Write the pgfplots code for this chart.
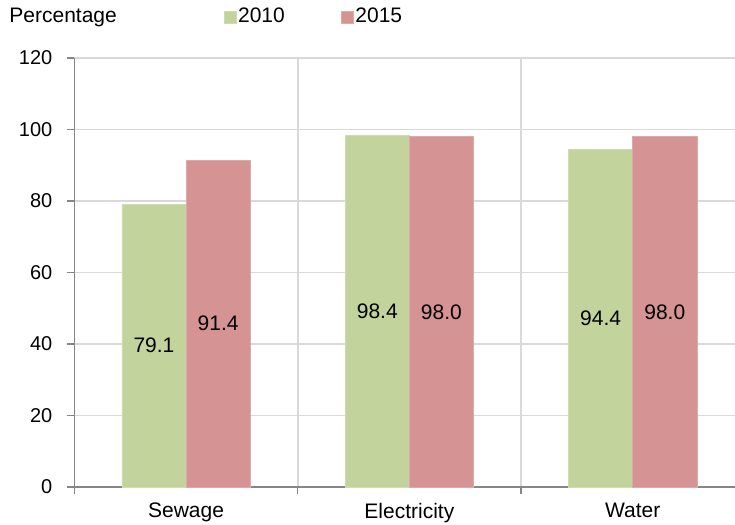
\documentclass[border=0pt]{standalone}
\usepackage{pgfplots}
\pgfplotsset{compat=1.18}
\usepackage{fontspec}
\setmainfont{Liberation Sans}
\definecolor{barG}{RGB}{194,211,155}
\definecolor{barR}{RGB}{213,147,147}
\definecolor{axisgray}{RGB}{134,134,134}
\definecolor{gridgray}{RGB}{217,217,217}
\begin{document}
\begin{tikzpicture}[font=\fontsize{10.5}{12}\selectfont]
\begin{axis}[
  scale only axis,
  width=335pt, height=214.5pt,
  xmin=-0.5, xmax=2.5,
  ymin=0, ymax=120,
  ytick={0,20,40,60,80,100,120},
  xtick={-0.5,0.5,1.5},
  xticklabels={},
  extra x ticks={0,1,2},
  extra x tick labels={Sewage,Electricity,Water},
  extra x tick style={major tick length=0pt, grid=none},
  xticklabel style={yshift=-4.5pt},
  yticklabel style={xshift=-4pt, font=\fontsize{10}{12}\selectfont},
  axis lines*=left,
  axis line style={axisgray, line width=0.75pt},
  tick style={axisgray, line width=0.75pt},
  tick align=outside,
  major tick length=3.5pt,
  xmajorgrids, ymajorgrids,
  grid style={gridgray, line width=0.85pt},
  /pgf/number format/assume math mode=true,
  clip=false,
  legend columns=2,
  legend style={at={(rel axis cs:0.222,1.0956)}, anchor=west, draw=none, fill=none,
    inner sep=0pt, font=\fontsize{10.5}{12}\selectfont,
    /tikz/every even column/.append style={column sep=27pt},
    nodes={inner sep=1pt}},
  legend image code/.code={\fill[#1] (0pt,-3pt) rectangle (6pt,3pt);},
]
\addplot[ybar, bar width=0.287, bar shift=-0.1435, fill=barG, draw=barG!80!white, line width=0.3pt]
  coordinates {(0,79.1) (1,98.4) (2,94.4)};
\addlegendentry{2010}
\addplot[ybar, bar width=0.287, bar shift=0.1435, fill=barR, draw=barR!80!white, line width=0.3pt]
  coordinates {(0,91.4) (1,98.0) (2,98.0)};
\addlegendentry{2015}
\addplot[draw=none, mark=none, forget plot, nodes near coords, point meta=explicit symbolic,
  every node near coord/.append style={anchor=center, font=\fontsize{10.5}{12}\selectfont, text=black}]
  coordinates {(-0.1435,39.55) [79.1] (0.1435,45.7) [91.4]
               (0.8565,49.2) [98.4] (1.1435,49.0) [98.0]
               (1.8565,47.2) [94.4] (2.1435,49.0) [98.0]};
\node[anchor=west, inner sep=0pt] at (rel axis cs:-0.0975,1.0956) {Percentage};
\coordinate (bbBL) at (rel axis cs:-0.111,-0.0862);
\coordinate (bbTR) at (rel axis cs:0.986,1.1352);
\end{axis}
\pgfresetboundingbox
\path[use as bounding box] (bbBL) rectangle (bbTR);
\end{tikzpicture}
\end{document}
